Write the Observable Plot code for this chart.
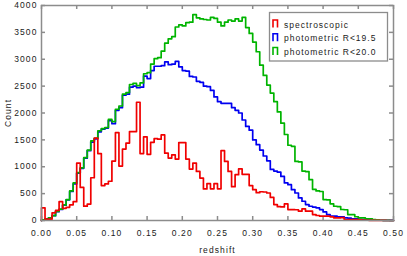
<!DOCTYPE html>
<html>
<head>
<meta charset="utf-8">
<script src="https://cdn.jsdelivr.net/npm/d3@7"></script>
<script src="https://cdn.jsdelivr.net/npm/@observablehq/plot@0.6"></script>
<style>
  html, body { margin: 0; padding: 0; background: #fff; }
  #chart { position: relative; width: 407px; height: 256px; }
</style>
</head>
<body>
<div id="chart"></div>
<script>
// ---- data ----
const binWidth = 0.005;
const xTicks = [0, 0.05, 0.10, 0.15, 0.20, 0.25, 0.30, 0.35, 0.40, 0.45, 0.50];
const yTicks = [0, 500, 1000, 1500, 2000, 2500, 3000, 3500, 4000];
const seriesNames = ["spectroscopic", "photometric R<19.5", "photometric R<20.0"];

const spectroscopic = [
  236, 25, 25, 143, 190, 350, 226, 245, 292, 350,
  1068, 615, 267, 305, 795, 1534, 1246, 650, 680, 730,
  1105, 1634, 1012, 1329, 1440, 1654, 1654, 2200, 1245, 1556,
  1232, 1454, 1522, 1513, 1593, 1253, 1161, 1222, 1142, 1450,
  1450, 1142, 957, 1068, 913, 790, 587, 685, 589, 685,
  589, 1300, 1099, 913, 630, 852, 960, 860, 860, 650,
  574, 518, 535, 530, 512, 430, 296, 258, 253, 309,
  204, 204, 200, 173, 216, 173, 173, 111, 93, 80,
  80, 80, 68, 49, 49, 55, 18, 18, 18, 15,
  12, 8, 5, 3, 2, 2, 1, 1, 0, 0
];
const photR195 = [
  10, 25, 50, 90, 165, 205, 285, 385, 540, 680,
  880, 970, 1160, 1300, 1460, 1520, 1650, 1700, 1720, 1860,
  1800, 2050, 2100, 2330, 2350, 2480, 2500, 2470, 2480, 2685,
  2640, 2790, 2870, 2870, 2880, 2950, 2900, 2910, 2960, 2860,
  2790, 2780, 2680, 2670, 2590, 2570, 2500, 2490, 2420, 2300,
  2210, 2180, 2180, 2180, 2100, 2050, 2000, 1870, 1750, 1680,
  1500, 1410, 1310, 1200, 1110, 950, 920, 900, 820, 700,
  667, 574, 512, 420, 358, 296, 265, 250, 235, 204,
  160, 111, 80, 80, 70, 70, 49, 45, 31, 30,
  20, 18, 15, 12, 10, 8, 5, 3, 2, 1
];
const photR200 = [
  10, 25, 50, 90, 170, 210, 290, 390, 550, 700,
  890, 980, 1170, 1310, 1480, 1530, 1670, 1710, 1730, 1880,
  1840, 2070, 2130, 2350, 2380, 2530, 2550, 2510, 2560, 2730,
  2750, 2910, 3010, 3030, 3150, 3300, 3380, 3420, 3600, 3640,
  3620, 3680, 3690, 3830, 3770, 3750, 3740, 3730, 3780, 3760,
  3690, 3620, 3690, 3730, 3710, 3750, 3710, 3780, 3590, 3480,
  3320, 3140, 2890, 2700, 2520, 2370, 2210, 2020, 1810, 1600,
  1400, 1380, 1100, 1090, 920, 910, 760, 580, 550, 540,
  390, 385, 310, 265, 260, 205, 200, 110, 110, 70,
  50, 50, 30, 30, 15, 12, 5, 2, 2, 0
];
const colors = ["#f00000", "#0000f0", "#00b400"];

// ---- build step tables ----
function steps(values) {
  const pts = [{x: 0, y: 0}];
  values.forEach((v, i) => pts.push({x: i * binWidth, y: v}));
  pts.push({x: values.length * binWidth, y: values[values.length - 1]});
  pts.push({x: values.length * binWidth, y: 0});
  return pts;
}
const sRed = steps(spectroscopic), sBlue = steps(photR195), sGreen = steps(photR200);

// ---- layout ----
const W = 407, H = 256, mL = 41, mR = 14, mT = 5, mB = 36;
const tickPx = 4;
const tyLen = tickPx * (4000 - 0) / (H - mT - mB);
const txLen = tickPx * (0.5 - 0) / (W - mL - mR);
const axisGrey = "#8c8c8c";

const chart = Plot.plot({
  width: W, height: H,
  marginLeft: mL, marginRight: mR, marginTop: mT, marginBottom: mB,
  style: {fontFamily: "'Liberation Sans', Arial, Helvetica, sans-serif", fontSize: "8.5px", letterSpacing: "1.1px", color: "#1a1a1a", background: "#fff", overflow: "visible"},
  x: {domain: [0, 0.5]},
  y: {domain: [0, 4000]},
  marks: [
    Plot.axisX(xTicks, {tickSize: 0, tickPadding: 9, tickFormat: d3.format(".2f"), label: "redshift", labelAnchor: "center", labelArrow: "none", labelOffset: 32}),
    Plot.axisY(yTicks, {tickSize: 0, tickPadding: 4, tickFormat: d => String(d), label: "Count", labelAnchor: "center", labelArrow: "none", labelOffset: 37}),
    Plot.ruleX(xTicks, {x: d => d, y1: 0, y2: tyLen, stroke: axisGrey, strokeWidth: 1.5}),
    Plot.ruleX(xTicks, {x: d => d, y1: 4000 - tyLen, y2: 4000, stroke: axisGrey, strokeWidth: 1.5}),
    Plot.ruleY(yTicks, {y: d => d, x1: 0, x2: txLen, stroke: axisGrey, strokeWidth: 1.5}),
    Plot.ruleY(yTicks, {y: d => d, x1: 0.5 - txLen, x2: 0.5, stroke: axisGrey, strokeWidth: 1.5}),
    Plot.line(sBlue, {x: "x", y: "y", curve: "step-after", stroke: colors[1], strokeWidth: 1.7}),
    Plot.line(sGreen, {x: "x", y: "y", curve: "step-after", stroke: colors[2], strokeWidth: 1.7}),
    Plot.line(sRed, {x: "x", y: "y", curve: "step-after", stroke: colors[0], strokeWidth: 1.7}),
    Plot.frame({stroke: axisGrey, strokeWidth: 1.5})
  ]
});
document.getElementById("chart").appendChild(chart);

// ---- legend ----
const svg = d3.select(chart);
const lg = svg.append("g");
lg.append("rect").attr("x", 269.5).attr("y", 12.5).attr("width", 118).attr("height", 48.5)
  .attr("fill", "#fff").attr("stroke", axisGrey).attr("stroke-width", 1.3);
const rowsY = [27.5, 41.3, 55];
seriesNames.forEach((name, i) => {
  const by = rowsY[i];
  lg.append("path")
    .attr("d", `M273,${by} V${by - 7.5} H277.5 V${by}`)
    .attr("fill", "none").attr("stroke", colors[i]).attr("stroke-width", 1.6);
  lg.append("text").attr("x", 284).attr("y", by).attr("fill", "#1a1a1a")
    .attr("text-anchor", "start")
    .style("font-size", "8.5px").style("letter-spacing", "1px").text(name);
});
</script>
</body>
</html>
